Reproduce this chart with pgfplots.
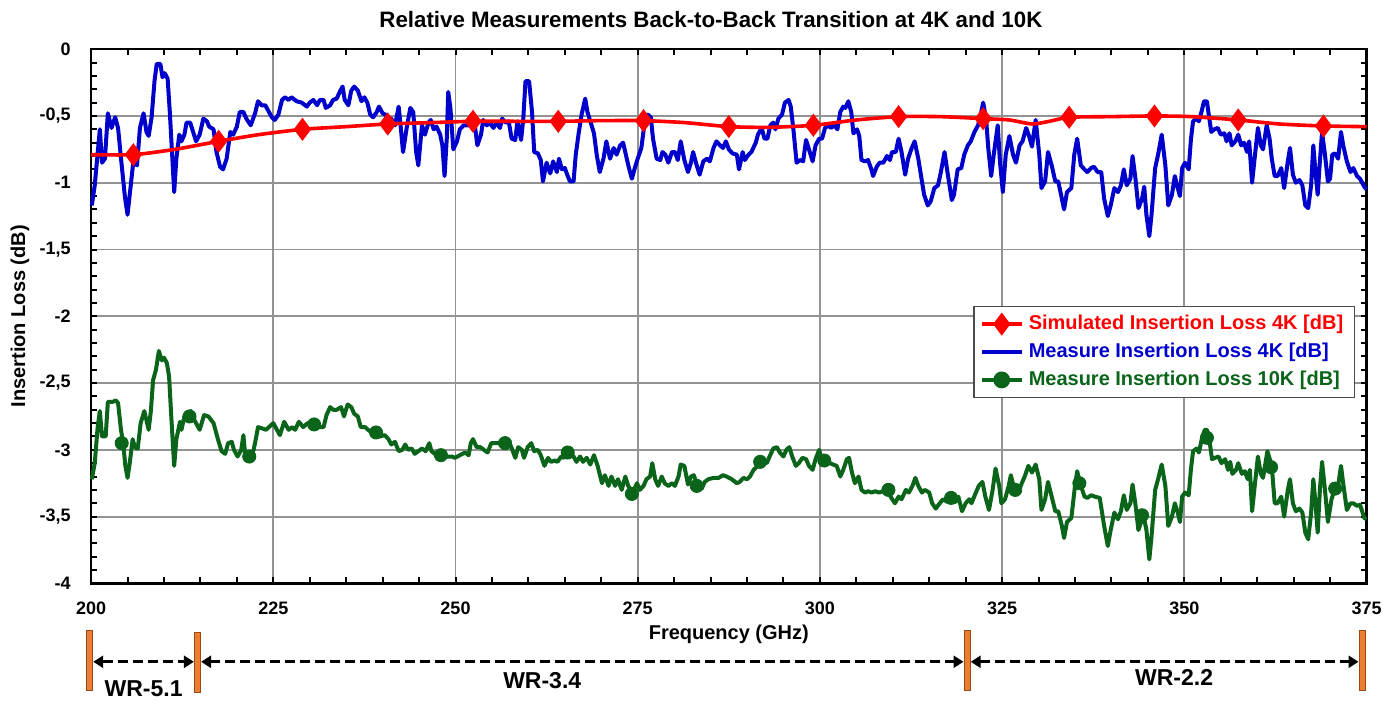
\documentclass[border=0pt]{standalone}
\usepackage{fontspec}
\setmainfont{Liberation Sans}
\usepackage{pgfplots}
\pgfplotsset{compat=1.18}
\usetikzlibrary{arrows.meta}
\definecolor{cblue}{RGB}{0,0,204}
\definecolor{cred}{RGB}{255,0,0}
\definecolor{cgreen}{RGB}{10,100,25}
\definecolor{corange}{RGB}{237,125,49}
\definecolor{corangedark}{RGB}{150,75,20}
\begin{document}
\begin{tikzpicture}
\begin{axis}[
  name=ax,
  scale only axis, width=637.7pt, height=267.1pt,
  xmin=200, xmax=375, ymin=-4, ymax=0,
  clip=false,
  xtick={200,225,250,275,300,325,350,375},
  xticklabels={200,225,250,275,300,325,350,375},
  ytick={-4,-3.5,-3,-2.5,-2,-1.5,-1,-0.5,0},
  yticklabels={{-4},{-3,5},{-3},{-2,5},{-2},{-1,5},{-1},{-0,5},{0}},
  minor x tick num=4, minor y tick num=4,
  tick align=inside, xtick pos=both, ytick pos=both,
  xticklabel pos=lower, yticklabel pos=left,
  major tick length=3pt, minor tick length=3pt,
  tick style={black, line width=1pt},
  minor tick style={black, line width=1pt},
  grid=major, major grid style={gray!85, line width=0.9pt},
  axis line style={black, line width=1.3pt},
  xticklabel style={font=\bfseries\fontsize{9}{10}\selectfont, yshift=-5.5pt},
  yticklabel style={font=\bfseries\fontsize{9}{10}\selectfont, xshift=-6.7pt},
  title={Relative Measurements Back-to-Back Transition at 4K and 10K},
  title style={at={(axis description cs:0.486,1.0322)}, anchor=center, font=\bfseries\fontsize{11.15}{13}\selectfont},
  xlabel={Frequency (GHz)},
  xlabel style={at={(axis description cs:0.5,-0.0947)}, anchor=center, font=\bfseries\fontsize{10}{12}\selectfont},
  ylabel={Insertion Loss (dB)},
  ylabel style={at={(axis description cs:-0.0557,0.5)}, anchor=center, font=\bfseries\fontsize{10}{12}\selectfont},
  legend cell align=left,
  legend image code/.code={\draw[mark repeat=2,mark phase=2,#1] plot coordinates {(0pt,0pt) (10pt,0pt) (20pt,0pt)};},
  legend style={at={(0.991,0.520)}, anchor=north east, draw=gray!60!black, line width=0.6pt,
    font=\bfseries\fontsize{10}{12}\selectfont, inner xsep=3pt, inner ysep=2pt,
    nodes={inner sep=2.6pt}},
]
\addlegendimage{cred, line width=1.8pt, mark=diamond*, mark size=4.3pt, mark options={solid, fill=cred, draw=cred}}
\addlegendentry{\textcolor{cred}{Simulated Insertion Loss 4K [dB]}}
\addlegendimage{cblue, line width=1.8pt}
\addlegendentry{\textcolor{cblue}{Measure Insertion Loss 4K [dB]}}
\addlegendimage{cgreen, line width=1.8pt, mark=*, mark size=3.3pt, mark options={solid, fill=cgreen, draw=cgreen}}
\addlegendentry{\textcolor{cgreen}{Measure Insertion Loss 10K [dB]}}

% Measured 4K
\addplot[cblue, line width=2pt, line join=round, forget plot] coordinates {
(200.1,-1.17) (200.5,-1.02) (201.0,-0.72) (201.2,-0.60) (201.5,-0.85) (201.9,-0.82) (202.3,-0.48) (202.8,-0.59)
(203.3,-0.51) (203.7,-0.59) (204.2,-0.87) (204.65,-1.11) (205.0,-1.24) (205.3,-1.09) (205.8,-0.84) (206.3,-0.87)
(206.7,-0.59) (207.2,-0.48) (207.6,-0.62) (207.9,-0.65) (208.3,-0.51) (208.7,-0.24) (209.0,-0.11) (209.5,-0.11)
(209.8,-0.21) (210.1,-0.18) (210.5,-0.22) (210.8,-0.47) (211.1,-0.77) (211.4,-1.07) (211.7,-0.82) (212.1,-0.64)
(212.4,-0.69) (212.8,-0.64) (213.1,-0.55) (213.6,-0.55) (214.0,-0.62) (214.4,-0.69) (214.9,-0.64) (215.4,-0.52)
(215.9,-0.54) (216.2,-0.58) (216.8,-0.60) (217.2,-0.77) (217.7,-0.88) (218.1,-0.90) (218.6,-0.82) (219.1,-0.62)
(219.5,-0.64) (220.0,-0.58) (220.4,-0.47) (220.9,-0.47) (221.3,-0.52) (221.9,-0.57) (222.5,-0.48) (222.9,-0.39)
(223.4,-0.42) (223.9,-0.42) (224.3,-0.46) (224.8,-0.51) (225.2,-0.53) (225.7,-0.49) (226.2,-0.38) (226.6,-0.36)
(227.1,-0.38) (227.5,-0.36) (228.2,-0.39) (228.9,-0.40) (229.6,-0.43) (230.0,-0.40) (230.5,-0.38) (231.0,-0.42)
(231.4,-0.38) (231.9,-0.38) (232.2,-0.44) (232.8,-0.42) (233.2,-0.38) (233.7,-0.37) (234.2,-0.31) (234.5,-0.28)
(234.8,-0.38) (235.3,-0.42) (235.7,-0.31) (236.1,-0.28) (236.6,-0.31) (237.1,-0.39) (237.5,-0.36) (237.9,-0.40)
(238.3,-0.49) (238.7,-0.51) (239.2,-0.47) (239.5,-0.43) (240.0,-0.48) (240.4,-0.49) (240.8,-0.55) (241.2,-0.52)
(241.7,-0.57) (242.2,-0.43) (242.5,-0.59) (242.8,-0.77) (243.3,-0.59) (243.8,-0.44) (244.2,-0.47) (244.6,-0.77)
(244.9,-0.87) (245.4,-0.57) (245.8,-0.64) (246.3,-0.55) (246.6,-0.53) (247.0,-0.60) (247.4,-0.58) (247.9,-0.64)
(248.2,-0.72) (248.5,-0.95) (248.8,-0.67) (249.0,-0.32) (249.3,-0.44) (249.7,-0.75) (250.2,-0.69) (250.6,-0.60)
(251.1,-0.57) (251.8,-0.57) (252.2,-0.49) (252.7,-0.59) (253.0,-0.72) (253.5,-0.64) (253.8,-0.53) (254.3,-0.57)
(254.7,-0.55) (255.2,-0.59) (255.6,-0.55) (256.1,-0.59) (256.4,-0.52) (256.9,-0.55) (257.3,-0.54) (257.7,-0.67)
(258.2,-0.68) (258.5,-0.54) (259.0,-0.68) (259.3,-0.52) (259.6,-0.24) (260.1,-0.24) (260.5,-0.47) (260.8,-0.77)
(261.3,-0.78) (261.7,-0.83) (262.0,-0.99) (262.5,-0.85) (263.0,-0.93) (263.4,-0.84) (263.9,-0.92) (264.2,-0.82)
(264.6,-0.90) (265.0,-0.89) (265.4,-0.95) (265.7,-0.99) (266.2,-0.99) (266.5,-0.79) (266.9,-0.63) (267.3,-0.49)
(267.8,-0.37) (268.1,-0.47) (268.5,-0.54) (269.0,-0.63) (269.4,-0.80) (269.8,-0.92) (270.3,-0.82) (270.7,-0.69)
(271.2,-0.82) (271.7,-0.74) (272.1,-0.79) (272.6,-0.72) (273.0,-0.70) (273.5,-0.82) (273.8,-0.89) (274.2,-0.97)
(274.6,-0.89) (275.0,-0.82) (275.5,-0.74) (275.9,-0.57) (276.4,-0.49) (276.8,-0.51) (277.1,-0.67) (277.6,-0.82)
(278.1,-0.83) (278.4,-0.77) (278.8,-0.79) (279.2,-0.85) (279.7,-0.77) (280.1,-0.77) (280.5,-0.83) (280.9,-0.69)
(281.4,-0.83) (281.9,-0.92) (282.3,-0.85) (282.6,-0.77) (283.1,-0.87) (283.5,-0.94) (284.0,-0.84) (284.5,-0.82)
(284.9,-0.84) (285.4,-0.74) (285.8,-0.69) (286.3,-0.72) (286.7,-0.74) (287.1,-0.69) (287.5,-0.75) (288.0,-0.78)
(288.6,-0.79) (288.9,-0.90) (289.4,-0.77) (289.7,-0.83) (290.2,-0.79) (290.6,-0.77) (291.2,-0.70) (291.5,-0.64)
(292.0,-0.59) (292.4,-0.67) (292.8,-0.67) (293.2,-0.57) (293.6,-0.55) (293.9,-0.60) (294.3,-0.52) (294.8,-0.49)
(295.2,-0.40) (295.7,-0.38) (296.0,-0.43) (296.4,-0.62) (296.8,-0.85) (297.3,-0.83) (297.7,-0.84) (298.1,-0.68)
(298.5,-0.75) (299.0,-0.84) (299.4,-0.72) (299.9,-0.67) (300.3,-0.67) (300.7,-0.59) (301.2,-0.57) (301.5,-0.59)
(302.0,-0.57) (302.4,-0.60) (302.8,-0.47) (303.2,-0.43) (303.5,-0.44) (303.9,-0.39) (304.3,-0.47) (304.6,-0.63)
(305.1,-0.60) (305.4,-0.65) (305.7,-0.83) (306.2,-0.84) (306.6,-0.83) (307.0,-0.89) (307.3,-0.95) (307.8,-0.88)
(308.2,-0.85) (308.7,-0.85) (309.2,-0.80) (309.6,-0.83) (309.9,-0.77) (310.4,-0.77) (310.8,-0.67) (311.2,-0.77)
(311.7,-0.94) (312.1,-0.82) (312.6,-0.74) (313.0,-0.69) (313.5,-0.82) (314.0,-0.99) (314.3,-1.09) (314.8,-1.17)
(315.2,-1.14) (315.7,-1.04) (316.2,-1.02) (316.6,-0.92) (317.1,-0.77) (317.5,-0.92) (318.1,-1.13) (318.4,-1.09)
(318.9,-0.90) (319.4,-0.89) (319.8,-0.79) (320.3,-0.72) (320.7,-0.69) (321.2,-0.62) (321.7,-0.57) (322.1,-0.48)
(322.4,-0.40) (322.8,-0.52) (323.1,-0.74) (323.5,-0.95) (323.9,-0.77) (324.4,-0.57) (324.7,-0.84) (325.1,-1.07)
(325.5,-0.79) (326.0,-0.65) (326.5,-0.79) (326.9,-0.85) (327.4,-0.72) (327.8,-0.69) (328.3,-0.59) (328.7,-0.65)
(329.1,-0.73) (329.6,-0.53) (330.1,-0.79) (330.4,-1.04) (330.9,-0.99) (331.3,-0.77) (331.8,-0.87) (332.3,-0.99)
(332.7,-0.99) (333.2,-1.12) (333.5,-1.20) (333.9,-1.07) (334.5,-1.04) (334.9,-0.79) (335.3,-0.67) (335.8,-0.87)
(336.3,-0.90) (336.7,-0.92) (337.2,-0.89) (337.6,-0.88) (338.1,-0.92) (338.6,-0.92) (339.0,-1.12) (339.5,-1.25)
(339.9,-1.17) (340.4,-1.04) (340.9,-1.07) (341.3,-1.02) (341.7,-0.90) (342.1,-1.02) (342.6,-0.97) (342.9,-0.80)
(343.3,-0.97) (343.7,-1.19) (344.2,-1.12) (344.5,-1.03) (344.8,-1.24) (345.2,-1.40) (345.5,-1.24) (346.0,-0.89)
(346.4,-0.79) (346.9,-0.64) (347.4,-0.87) (347.8,-1.17) (348.3,-1.09) (348.7,-0.95) (349.1,-1.04) (349.4,-1.10)
(349.7,-0.89) (350.1,-0.85) (350.6,-0.90) (350.9,-0.68) (351.2,-0.54) (351.7,-0.52) (352.0,-0.54) (352.4,-0.46)
(352.7,-0.39) (353.1,-0.39) (353.3,-0.47) (353.7,-0.62) (354.1,-0.60) (354.6,-0.59) (355.0,-0.64) (355.5,-0.63)
(355.8,-0.69) (356.2,-0.63) (356.5,-0.72) (357.0,-0.69) (357.4,-0.64) (357.8,-0.72) (358.2,-0.70) (358.6,-0.77)
(358.9,-0.69) (359.3,-1.00) (359.7,-0.79) (360.1,-0.59) (360.5,-0.72) (360.8,-0.75) (361.3,-0.57) (361.7,-0.67)
(362.0,-0.82) (362.4,-0.95) (362.8,-0.95) (363.3,-0.89) (363.7,-1.04) (364.2,-0.84) (364.5,-0.74) (364.9,-0.94)
(365.3,-1.00) (365.8,-0.98) (366.2,-1.02) (366.6,-1.17) (367.0,-1.19) (367.4,-1.02) (367.7,-0.72) (368.0,-0.92)
(368.3,-1.09) (368.6,-0.84) (368.9,-0.62) (369.3,-0.79) (369.7,-0.99) (370.0,-0.97) (370.3,-0.79) (370.7,-0.78)
(371.1,-0.82) (371.5,-0.62) (371.8,-0.72) (372.3,-0.84) (372.8,-0.92) (373.2,-0.89) (373.7,-0.95) (374.1,-0.97)
(374.7,-1.03) (375.0,-1.05)
};

% Simulated 4K
\addplot[cred, line width=1.8pt, smooth, tension=0.4, mark=diamond*, mark size=4.3pt,
  mark options={solid, fill=cred, draw=cred},
  mark indices={2,4,6,8,10,12,14,16,18,20,22,26,28,30,32}, forget plot] coordinates {
(200,-0.79) (205.8,-0.79) (211.5,-0.75) (217.5,-0.69) (223,-0.64) (229,-0.60) (235,-0.58) (240.7,-0.56)
(246.5,-0.55) (252.4,-0.54) (258.2,-0.54) (264.1,-0.54) (270,-0.535) (275.8,-0.535) (281.5,-0.55) (287.5,-0.58)
(293,-0.585) (299.1,-0.57) (305,-0.53) (310.8,-0.505) (316.5,-0.505) (322.4,-0.52) (326,-0.53) (329.1,-0.56)
(331.5,-0.54) (334.2,-0.51) (340,-0.505) (345.9,-0.50) (351,-0.505) (357.4,-0.53) (363,-0.56) (369.1,-0.575)
(375,-0.58)
};

% Measured 10K
\addplot[cgreen, line width=2pt, line join=round, forget plot] coordinates {
(200.1,-3.22) (200.5,-3.10) (200.9,-2.83) (201.2,-2.71) (201.5,-2.90) (202.0,-2.90) (202.3,-2.64) (202.7,-2.64)
(203.0,-2.64) (203.4,-2.63) (203.7,-2.65) (204.1,-2.85) (204.4,-2.95) (204.7,-3.12) (205.0,-3.21) (205.3,-3.10)
(205.7,-2.92) (206.0,-2.98) (206.4,-2.99) (206.8,-2.80) (207.3,-2.71) (207.9,-2.85) (208.2,-2.71) (208.5,-2.48)
(208.9,-2.40) (209.3,-2.26) (209.7,-2.33) (210.0,-2.31) (210.4,-2.35) (210.7,-2.45) (211.0,-2.75) (211.4,-3.12)
(211.7,-2.92) (212.2,-2.79) (212.4,-2.85) (212.8,-2.75) (213.3,-2.73) (213.7,-2.71) (214.2,-2.78) (214.9,-2.85)
(215.5,-2.74) (216.1,-2.75) (216.8,-2.80) (217.4,-2.92) (217.9,-3.01) (218.4,-3.03) (218.8,-2.95) (219.3,-2.94)
(219.6,-3.00) (220.1,-3.05) (220.6,-3.00) (220.9,-2.89) (221.2,-3.07) (221.7,-3.06) (222.3,-3.00) (222.6,-2.92)
(222.9,-2.83) (223.5,-2.84) (224.0,-2.85) (224.4,-2.83) (225.0,-2.80) (225.5,-2.85) (225.9,-2.89) (226.5,-2.79)
(227.1,-2.85) (227.6,-2.83) (228.0,-2.85) (228.5,-2.79) (229.1,-2.83) (229.7,-2.80) (230.5,-2.81) (231.2,-2.83)
(231.9,-2.83) (232.3,-2.74) (232.8,-2.68) (233.2,-2.70) (233.7,-2.70) (234.3,-2.68) (234.7,-2.75) (235.2,-2.66)
(235.7,-2.68) (236.1,-2.73) (236.6,-2.75) (237.0,-2.83) (237.6,-2.83) (238.0,-2.85) (238.5,-2.87) (239.2,-2.85)
(239.6,-2.90) (240.3,-2.89) (240.8,-2.92) (241.2,-2.96) (241.7,-2.94) (242.2,-3.01) (242.7,-3.00) (243.1,-2.96)
(243.5,-3.00) (244.0,-2.99) (244.4,-3.03) (244.9,-3.01) (245.4,-2.99) (245.9,-3.01) (246.4,-2.95) (246.7,-3.01)
(247.4,-3.04) (248.1,-3.05) (248.8,-3.05) (249.5,-3.05) (249.9,-3.06) (250.6,-3.04) (251.3,-3.02) (251.8,-3.04)
(252.1,-2.95) (252.4,-2.92) (252.9,-2.98) (253.4,-2.98) (253.9,-3.00) (254.4,-3.02) (254.9,-2.95) (255.4,-2.95)
(256.1,-2.95) (256.8,-2.95) (257.5,-2.96) (257.8,-3.00) (258.2,-3.06) (258.6,-2.98) (259.1,-3.00) (259.4,-3.06)
(259.9,-2.98) (260.4,-2.95) (260.8,-3.01) (261.3,-3.00) (261.7,-3.04) (262.2,-3.12) (262.7,-3.06) (263.1,-3.09)
(263.6,-3.08) (264.0,-3.09) (264.5,-3.05) (264.9,-3.06) (265.5,-3.01) (266.2,-3.05) (266.6,-3.09) (267.1,-3.05)
(267.5,-3.09) (268.0,-3.06) (268.5,-3.11) (269.0,-3.04) (269.5,-3.12) (270.1,-3.25) (270.5,-3.19) (271.0,-3.27)
(271.4,-3.20) (271.9,-3.27) (272.3,-3.22) (272.8,-3.30) (273.3,-3.20) (273.7,-3.27) (274.3,-3.32) (274.9,-3.25)
(275.3,-3.30) (275.8,-3.27) (276.2,-3.22) (276.7,-3.20) (277.0,-3.10) (277.4,-3.22) (277.8,-3.27) (278.3,-3.20)
(278.7,-3.25) (279.2,-3.27) (279.7,-3.25) (280.1,-3.27) (280.6,-3.20) (280.9,-3.11) (281.4,-3.12) (281.9,-3.26)
(282.3,-3.20) (282.7,-3.19) (283.2,-3.27) (283.8,-3.29) (284.2,-3.24) (284.7,-3.22) (285.4,-3.21) (286.1,-3.21)
(286.7,-3.19) (287.2,-3.20) (287.9,-3.22) (288.6,-3.25) (289.0,-3.24) (289.5,-3.21) (290.0,-3.22) (290.4,-3.20)
(290.9,-3.15) (291.5,-3.12) (292.0,-3.09) (292.7,-3.10) (293.1,-3.05) (293.6,-2.99) (294.1,-2.98) (294.5,-3.02)
(295.0,-3.05) (295.4,-3.00) (295.8,-2.98) (296.2,-3.05) (296.7,-3.12) (297.1,-3.10) (297.6,-3.06) (298.1,-3.07)
(298.5,-3.12) (299.0,-3.15) (299.4,-3.07) (299.9,-3.00) (300.3,-3.09) (300.7,-3.10) (301.4,-3.10) (301.8,-3.11)
(302.3,-3.12) (302.8,-3.20) (303.2,-3.15) (303.7,-3.07) (304.0,-3.06) (304.4,-3.17) (304.8,-3.25) (305.3,-3.20)
(305.7,-3.30) (306.2,-3.32) (306.6,-3.31) (307.1,-3.32) (307.6,-3.31) (308.1,-3.32) (308.7,-3.31) (309.3,-3.30)
(309.8,-3.36) (310.3,-3.40) (310.8,-3.35) (311.2,-3.37) (311.8,-3.30) (312.2,-3.32) (312.7,-3.27) (313.1,-3.21)
(313.5,-3.27) (314.0,-3.32) (314.4,-3.30) (315.0,-3.32) (315.4,-3.40) (315.9,-3.44) (316.3,-3.41) (316.9,-3.37)
(317.5,-3.39) (318.1,-3.36) (318.6,-3.39) (319.0,-3.35) (319.5,-3.46) (320.0,-3.40) (320.5,-3.37) (320.8,-3.40)
(321.4,-3.32) (321.8,-3.27) (322.3,-3.24) (322.7,-3.35) (323.2,-3.45) (323.7,-3.30) (324.1,-3.14) (324.6,-3.27)
(324.9,-3.40) (325.4,-3.37) (325.9,-3.27) (326.2,-3.19) (326.7,-3.30) (327.2,-3.32) (327.7,-3.25) (328.1,-3.20)
(328.6,-3.12) (329.1,-3.17) (329.6,-3.11) (330.1,-3.22) (330.4,-3.45) (330.9,-3.37) (331.3,-3.24) (331.8,-3.35)
(332.3,-3.46) (332.7,-3.46) (333.2,-3.57) (333.5,-3.66) (333.9,-3.54) (334.5,-3.51) (335.0,-3.27) (335.3,-3.16)
(335.7,-3.25) (336.3,-3.35) (336.7,-3.36) (337.2,-3.34) (337.7,-3.35) (338.4,-3.36) (339.0,-3.57) (339.5,-3.72)
(339.9,-3.60) (340.4,-3.47) (340.9,-3.52) (341.3,-3.46) (341.7,-3.34) (342.1,-3.45) (342.6,-3.40) (342.9,-3.26)
(343.3,-3.41) (343.7,-3.60) (344.4,-3.49) (344.8,-3.60) (345.2,-3.82) (345.5,-3.65) (346.0,-3.30) (346.4,-3.22)
(346.9,-3.11) (347.4,-3.27) (347.8,-3.57) (348.3,-3.50) (348.7,-3.40) (349.1,-3.47) (349.4,-3.54) (349.7,-3.35)
(350.1,-3.32) (350.6,-3.34) (350.9,-3.15) (351.2,-3.01) (351.7,-2.99) (352.0,-3.02) (352.4,-2.92) (352.8,-2.85)
(353.1,-2.85) (353.4,-2.91) (353.8,-3.07) (354.2,-3.06) (354.7,-3.05) (355.1,-3.10) (355.6,-3.07) (356.0,-3.15)
(356.3,-3.09) (356.6,-3.18) (357.1,-3.15) (357.4,-3.10) (357.9,-3.18) (358.3,-3.16) (358.7,-3.22) (359.0,-3.15)
(359.3,-3.46) (359.7,-3.25) (360.1,-3.05) (360.5,-3.18) (360.8,-3.21) (361.4,-3.01) (362.0,-3.12) (362.4,-3.40)
(362.8,-3.40) (363.3,-3.35) (363.7,-3.50) (364.2,-3.30) (364.5,-3.22) (364.9,-3.40) (365.3,-3.46) (365.8,-3.44)
(366.2,-3.47) (366.6,-3.62) (367.0,-3.67) (367.4,-3.47) (367.7,-3.22) (368.0,-3.40) (368.3,-3.62) (368.6,-3.30)
(368.9,-3.09) (369.3,-3.30) (369.7,-3.54) (370.2,-3.37) (370.6,-3.30) (371.1,-3.27) (371.5,-3.12) (371.8,-3.25)
(372.3,-3.45) (372.8,-3.40) (373.2,-3.40) (373.7,-3.42) (374.1,-3.41) (374.7,-3.51) (375.0,-3.52)
};
\addplot[only marks, mark=*, mark size=3.3pt, mark options={fill=cgreen, draw=cgreen}, forget plot] coordinates {
(204.2,-2.95) (213.5,-2.75) (221.7,-3.05) (230.6,-2.81) (239.1,-2.87) (248.0,-3.04) (256.8,-2.95) (265.4,-3.02)
(274.2,-3.33) (283.1,-3.27) (291.8,-3.09) (300.6,-3.08) (309.4,-3.30) (318.0,-3.36) (326.8,-3.30) (335.6,-3.25)
(344.2,-3.49) (353.1,-2.91) (361.9,-3.13) (370.7,-3.29)
};

% Waveguide band annotations
\foreach \xb/\ya/\yb in {199.8/23.3/53.3, 214.6/24.3/54.3, 320.2/23.3/53.3, 374.4/23.3/53.3}{
  \edef\temp{\noexpand\filldraw[fill=corange, draw=corangedark, line width=0.4pt]
    ([xshift=-1.4pt,yshift=-\ya pt]axis cs:\xb,-4) rectangle ([xshift=1.4pt,yshift=-\yb pt]axis cs:\xb,-4);}
  \temp
}
\draw[black, line width=1.6pt, dash pattern=on 5pt off 2.5pt, {Triangle[length=5pt,width=6pt]}-{Triangle[length=5pt,width=6pt]}]
  ([xshift=1.8pt,yshift=-39.2pt]axis cs:199.8,-4) -- ([xshift=-1.8pt,yshift=-39.2pt]axis cs:214.6,-4);
\draw[black, line width=1.6pt, dash pattern=on 5pt off 2.5pt, {Triangle[length=5pt,width=6pt]}-{Triangle[length=5pt,width=6pt]}]
  ([xshift=1.8pt,yshift=-39.2pt]axis cs:214.6,-4) -- ([xshift=-1.8pt,yshift=-39.2pt]axis cs:320.2,-4);
\draw[black, line width=1.6pt, dash pattern=on 5pt off 2.5pt, {Triangle[length=5pt,width=6pt]}-{Triangle[length=5pt,width=6pt]}]
  ([xshift=1.8pt,yshift=-39.2pt]axis cs:320.2,-4) -- ([xshift=-1.8pt,yshift=-39.2pt]axis cs:374.4,-4);
\node[font=\bfseries\fontsize{11.5}{13}\selectfont] at ([yshift=-52.8pt]axis cs:207.2,-4) {WR-5.1};
\node[font=\bfseries\fontsize{11.5}{13}\selectfont] at ([yshift=-48.5pt]axis cs:261.9,-4) {WR-3.4};
\node[font=\bfseries\fontsize{11.5}{13}\selectfont] at ([yshift=-46.8pt]axis cs:348.6,-4) {WR-2.2};
\end{axis}
\pgfresetboundingbox
\useasboundingbox ([xshift=-45.55pt,yshift=-59.3pt]ax.south west) rectangle ([xshift=15.25pt,yshift=24.6pt]ax.north east);
\end{tikzpicture}
\end{document}
